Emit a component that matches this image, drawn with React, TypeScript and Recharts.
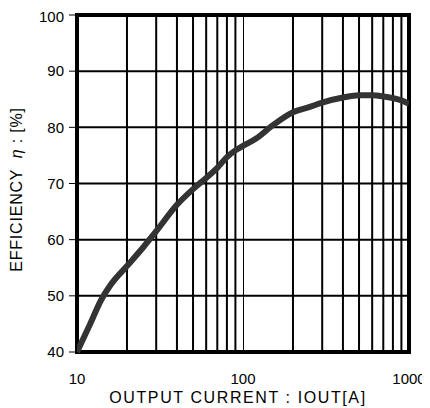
import { LineChart, Line, XAxis, YAxis, ReferenceLine, ReferenceArea, Label } from "recharts";

// Output current [A] and measured efficiency [%]
const current = [10, 12, 14, 16, 20, 25, 30, 40, 50, 60, 70, 80, 90, 100, 120, 150, 200, 250, 300, 400, 500, 600, 700, 800, 900, 1000];
const efficiency = [40, 45, 49.3, 52, 55.3, 58.6, 61.5, 66.2, 69, 71, 72.8, 74.7, 75.9, 76.7, 78, 80.3, 82.7, 83.6, 84.4, 85.3, 85.7, 85.7, 85.5, 85.2, 84.8, 84.2];

const xTicks = [10, 100, 1000];
const yTicks = [40, 50, 60, 70, 80, 90, 100];
// minor decade lines on the log axis
const xMinor = [20, 30, 40, 50, 60, 70, 80, 90, 200, 300, 400, 500, 600, 700, 800, 900];
const yGrid = [50, 60, 70, 80, 90];

const data = current.map((c, i) => ({ current: c, eff: efficiency[i] }));

const FONT = '"Liberation Sans", Arial, sans-serif';

function YTitle({ viewBox }: any) {
  const cx = 8;
  const cy = viewBox.y + viewBox.height / 2 + 6;
  return (
    <text
      x={cx}
      y={cy}
      transform={`rotate(-90 ${cx} ${cy})`}
      textAnchor="middle"
      dominantBaseline="central"
      fontSize={16}
      fontFamily={FONT}
      letterSpacing={0.8}
      fill="#000"
    >
      EFFICIENCY&#160;&#160;<tspan fontStyle="italic">η</tspan> : [%]
    </text>
  );
}

export default function App() {
  return (
    <LineChart
      width={422}
      height={400}
      data={data}
      margin={{ top: 7, right: 21, left: 0, bottom: 0 }}
      style={{ fontFamily: FONT }}
    >
      <XAxis
        dataKey="current"
        type="number"
        scale="log"
        domain={[10, 1000]}
        ticks={xTicks}
        allowDataOverflow
        axisLine={false}
        tickLine={false}
        tickSize={0}
        tickMargin={21}
        height={56}
        tick={{ fill: "#000", fontSize: 15 }}
      >
        <Label
          value="OUTPUT CURRENT : IOUT[A]"
          position="insideBottom"
          offset={5}
          dx={-5}
          fontSize={16}
          fill="#000"
          letterSpacing={1.6}
        />
      </XAxis>
      <YAxis
        type="number"
        domain={[40, 100]}
        ticks={yTicks}
        width={69}
        axisLine={false}
        tickLine={{ stroke: "#000", strokeWidth: 1 }}
        tickSize={8}
        tickMargin={5}
        tick={{ fill: "#000", fontSize: 15 }}
      >
        <Label content={YTitle} />
      </YAxis>

      {xMinor.map((v) => (
        <ReferenceLine key={`x${v}`} x={v} stroke="#000" strokeWidth={2} />
      ))}
      <ReferenceLine x={100} stroke="#000" strokeWidth={1} shapeRendering="crispEdges" />
      {yGrid.map((v) => (
        <ReferenceLine key={`y${v}`} y={v} stroke="#000" strokeWidth={2} />
      ))}
      <ReferenceArea x1={10} x2={1000} y1={40} y2={100} fill="none" stroke="#000" strokeWidth={4} />

      <Line
        dataKey="eff"
        type="monotone"
        stroke="#333333"
        strokeWidth={6}
        dot={false}
        activeDot={false}
        isAnimationActive={false}
      />
    </LineChart>
  );
}
